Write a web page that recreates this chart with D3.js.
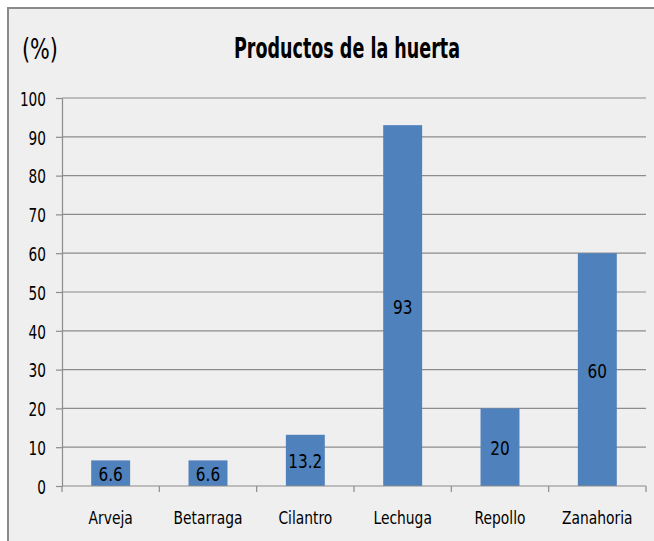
<!DOCTYPE html>
<html>
<head>
<meta charset="utf-8">
<script src="https://cdn.jsdelivr.net/npm/d3@7"></script>
<style>
body { margin: 0; background: #fff; }
text { font-family: "Liberation Sans Narrow", "DejaVu Sans Condensed", sans-serif; fill: #000; }
</style>
</head>
<body>
<div class="content"></div>
<script>
var categories = ["Arveja", "Betarraga", "Cilantro", "Lechuga", "Repollo", "Zanahoria"];
var values = [6.6, 6.6, 13.2, 93, 20, 60];
var labels = ["6.6", "6.6", "13.2", "93", "20", "60"];
var yTicks = [0, 10, 20, 30, 40, 50, 60, 70, 80, 90, 100];
var title = "Productos de la huerta";
var unit = "(%)";

// squeeze text horizontally so it looks like the tall narrow original font
function squeeze(sel, k){
  sel.each(function(){
    var w = this.getComputedTextLength();
    d3.select(this).attr("textLength", w * k).attr("lengthAdjust", "spacingAndGlyphs");
  });
}

function drawChart(){
var width = 654, height = 541;
var pLeft = 62, pRight = 646, pTop = 98, pBottom = 486;
var svg = d3.select(".content").append("svg").attr("width", width).attr("height", height);

// frame
svg.append("rect").attr("x", 8).attr("y", 8).attr("width", 660).attr("height", 560)
  .attr("fill", "#efefef").attr("stroke", "#8a8a8a").attr("stroke-width", 2);

var x = d3.scaleBand().domain(categories).range([pLeft, pRight]).padding(0);
var y = d3.scaleLinear().domain([0, 100]).range([pBottom, pTop]);

// gridlines
svg.append("g").selectAll("line").data(yTicks.slice(1)).enter().append("line")
  .attr("x1", pLeft).attr("x2", pRight)
  .attr("y1", function(d){ return y(d); }).attr("y2", function(d){ return y(d); })
  .attr("stroke", "#8c8c8c").attr("stroke-width", 1.2);

// y axis
var ya = svg.append("g").attr("transform", "translate(" + pLeft + ",0)")
  .call(d3.axisLeft(y).tickValues(yTicks).tickSize(6).tickPadding(10).tickSizeOuter(0));
ya.select(".domain").attr("stroke", "#8c8c8c").attr("stroke-width", 1.2);
ya.selectAll(".tick line").attr("stroke", "#8c8c8c").attr("stroke-width", 1.2);
ya.selectAll(".tick text").attr("font-size", 20).attr("font-family", null).attr("dy", "0.36em");
squeeze(ya.selectAll(".tick text"), 0.76);

// bars
var bw = x.bandwidth() / 2.5;
var bars = svg.append("g").selectAll("g").data(categories).enter().append("g");
bars.append("rect")
  .attr("x", function(d){ return x(d) + x.bandwidth() / 2 - bw / 2; })
  .attr("y", function(d, i){ return y(values[i]); })
  .attr("width", bw)
  .attr("height", function(d, i){ return y(0) - y(values[i]); })
  .attr("fill", "#4f81bd");
var bl = bars.append("text")
  .attr("x", function(d){ return x(d) + x.bandwidth() / 2; })
  .attr("y", function(d, i){ return (y(values[i]) + y(0)) / 2 + 8; })
  .attr("text-anchor", "middle").attr("font-size", 20)
  .text(function(d, i){ return labels[i]; });
squeeze(bl, 0.85);

// x axis
var xa = svg.append("g").attr("transform", "translate(0," + pBottom + ")")
  .call(d3.axisBottom(x).tickSize(0).tickPadding(0));
xa.select(".domain").remove();
xa.selectAll(".tick text").attr("font-size", 17.5).attr("font-family", null).attr("dy", 0).attr("y", 38);
squeeze(xa.selectAll(".tick text"), 0.88);
svg.append("line").attr("x1", pLeft).attr("x2", pRight).attr("y1", pBottom).attr("y2", pBottom)
  .attr("stroke", "#8c8c8c").attr("stroke-width", 1.2);
svg.append("g").selectAll("line").data(categories.concat(["end"])).enter().append("line")
  .attr("x1", function(d, i){ return pLeft + i * x.step(); })
  .attr("x2", function(d, i){ return pLeft + i * x.step(); })
  .attr("y1", pBottom).attr("y2", pBottom + 6)
  .attr("stroke", "#8c8c8c").attr("stroke-width", 1.2);

// titles
svg.append("text").attr("x", 234).attr("y", 58).attr("font-size", 28).attr("font-weight", "bold")
  .attr("textLength", 226).attr("lengthAdjust", "spacingAndGlyphs").text(title);
svg.append("text").attr("x", 22).attr("y", 59).attr("font-size", 29)
  .attr("textLength", 36).attr("lengthAdjust", "spacingAndGlyphs").text(unit);
}
drawChart();
</script>
</body>
</html>
